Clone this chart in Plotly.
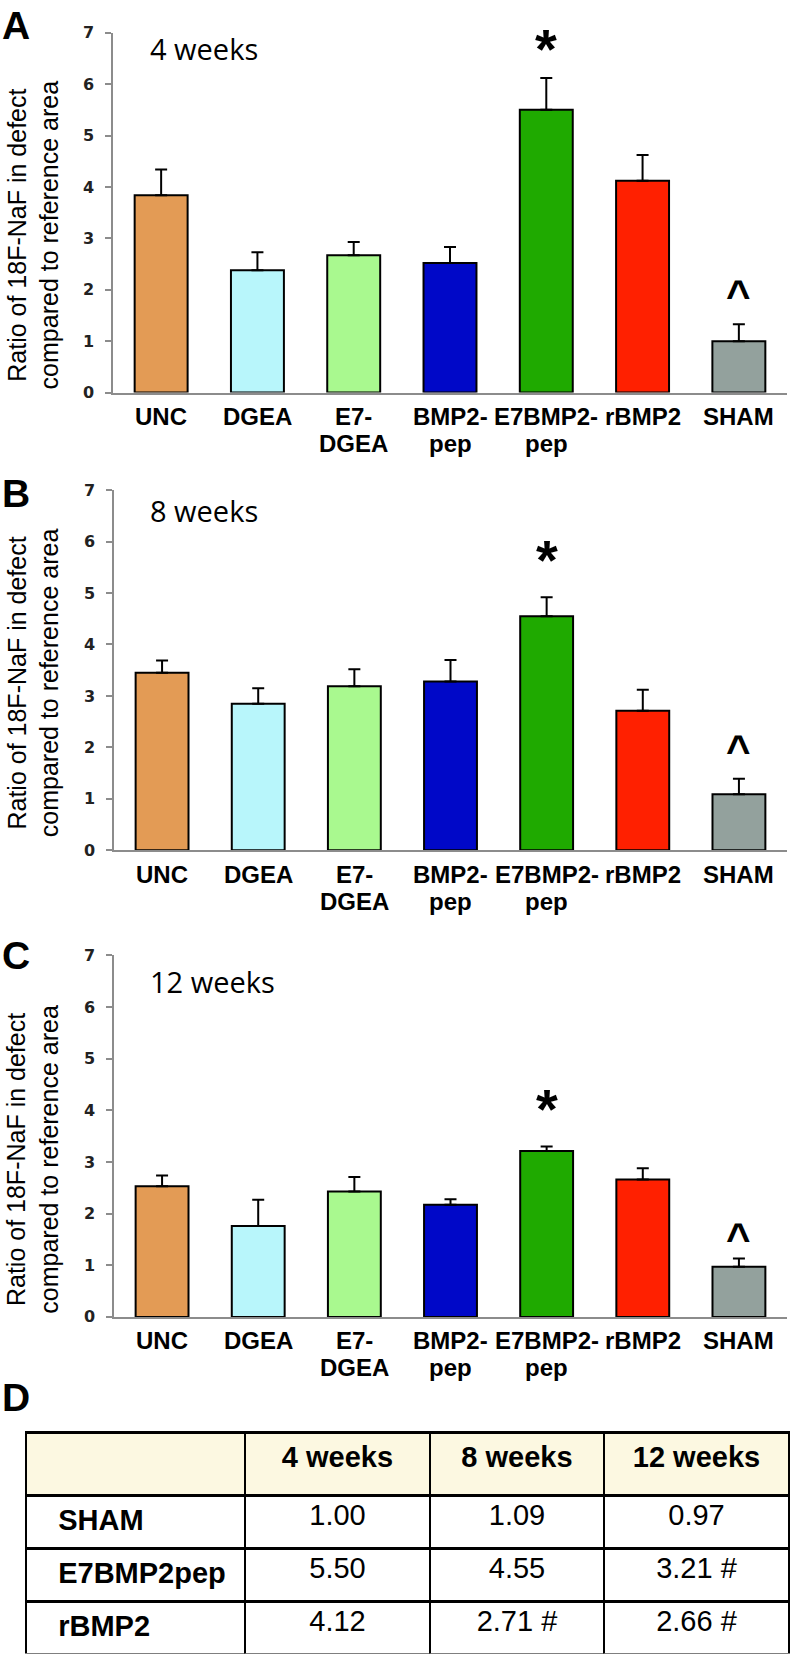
import plotly.graph_objects as go

# ---------------- data ----------------
categories = ["UNC", "DGEA", "E7-DGEA", "BMP2-pep", "E7BMP2-pep", "rBMP2", "SHAM"]
tick_labels = ["UNC", "DGEA", "E7-<br>DGEA", "BMP2-<br>pep", "E7BMP2-<br>pep", "rBMP2", "SHAM"]
bar_colors = ["#E39B55", "#B8F6FB", "#A9F98F", "#0008C8", "#1FAA00", "#FF2000", "#93A19D"]

week4_mean = [3.84, 2.38, 2.67, 2.52, 5.50, 4.12, 1.00]
week4_err = [0.50, 0.35, 0.26, 0.31, 0.62, 0.50, 0.33]
week8_mean = [3.45, 2.85, 3.19, 3.28, 4.55, 2.71, 1.09]
week8_err = [0.24, 0.30, 0.33, 0.42, 0.37, 0.41, 0.30]
week12_mean = [2.53, 1.76, 2.43, 2.17, 3.21, 2.66, 0.97]
week12_err = [0.21, 0.51, 0.28, 0.11, 0.09, 0.22, 0.16]

sig_marks = ["", "", "", "", "*", "", "^"]
panel_letters = ["A", "B", "C"]
panel_titles = ["4 weeks", "8 weeks", "12 weeks"]
y_title = "Ratio of 18F-NaF in defect<br>compared to reference area"

table_header = ["", "4 weeks", "8 weeks", "12 weeks"]
table_rows = ["SHAM", "E7BMP2pep", "rBMP2"]
table_4wk = ["1.00", "5.50", "4.12"]
table_8wk = ["1.09", "4.55", "2.71 #"]
table_12wk = ["0.97", "3.21 #", "2.66 #"]

# ---------------- layout helpers ----------------
W, H = 792, 1664
def px(x):
    return x / W
def py(y):
    return 1 - y / H

# pixel geometry of each panel: (x_left, x_right, y_top(=7), y_bottom(=0))
panels = [(113, 787, 24, 388), (114, 787, 486.7, 851), (114, 787, 957.3, 1323)]
ytitle_center = [229, 682, 1164]
title_center_y = [40, 507, 984]
letter_center_y = [17, 490, 957]
star_shift = [29, 38, 38]
caret_shift = [29, 28, 20]
xlabel_line_shift = [-24, -51]

means = [week4_mean, week8_mean, week12_mean]
errs = [week4_err, week8_err, week12_err]

AX = "#8C8C8C"
ARIAL = "Liberation Sans, Arial"
fig = go.Figure()
annotations = []

for i in range(3):
    sfx = "" if i == 0 else str(i + 1)
    xa, ya = "x" + sfx, "y" + sfx
    fig.add_trace(go.Bar(
        x=categories, y=means[i], xaxis=xa, yaxis=ya,
        marker=dict(color=bar_colors, line=dict(color="black", width=2)),
        error_y=dict(type="data", array=errs[i], arrayminus=[0] * len(errs[i]),
                     symmetric=False, color="black", thickness=2, width=6),
        hoverinfo="skip",
    ))
    x0, x1, yt, yb = panels[i]
    fig.layout["xaxis" + sfx] = dict(
        domain=[px(x0), px(x1)], anchor=ya, type="category",
        range=[-0.5, 6.5], showline=True, linecolor=AX, linewidth=1.5,
        ticks="", showticklabels=False,
        showgrid=False, zeroline=False, fixedrange=True,
    )
    fig.layout["yaxis" + sfx] = dict(
        domain=[py(yb), py(yt)], anchor=xa, range=[0, 7], dtick=1,
        showline=True, linecolor=AX, linewidth=1.5, ticks="outside",
        ticklen=6, tickcolor=AX, tickwidth=1.5,
        tickfont=dict(family="DejaVu Sans, Verdana", size=16, color="#222", weight=700),
        ticklabelstandoff=8,
        showgrid=False, zeroline=False, fixedrange=True,
    )
    # category labels (two-line, tight line spacing)
    for c, lab in zip(categories, tick_labels):
        for k, line in enumerate(lab.split("<br>")):
            annotations.append(dict(x=c, y=0, xref=xa, yref=ya, text=line, showarrow=False,
                                    xanchor="center", yanchor="middle", yshift=xlabel_line_shift[k],
                                    font=dict(family=ARIAL, size=24, color="black", weight=700)))
    # significance marks
    for c, m, e, mk in zip(categories, means[i], errs[i], sig_marks):
        if mk == "*":
            annotations.append(dict(x=c, y=m + e, xref=xa, yref=ya, text="*", showarrow=False,
                                    yanchor="middle", yshift=star_shift[i],
                                    font=dict(family=ARIAL, size=56, color="black", weight=700)))
        elif mk == "^":
            annotations.append(dict(x=c, y=m + e, xref=xa, yref=ya, text="^", showarrow=False,
                                    yanchor="middle", yshift=caret_shift[i],
                                    font=dict(family=ARIAL, size=42, color="black", weight=700)))
    # panel title
    annotations.append(dict(x=px(148), y=py(title_center_y[i]), xref="paper", yref="paper",
                            text=panel_titles[i], showarrow=False, xanchor="left", yanchor="middle",
                            font=dict(family="Open Sans", size=29, color="black")))
    # y title
    annotations.append(dict(x=px(33), y=py(ytitle_center[i]), xref="paper", yref="paper",
                            text=y_title, showarrow=False, textangle=-90, xanchor="center", yanchor="middle",
                            font=dict(family=ARIAL, size=25, color="black")))
    # panel letter
    annotations.append(dict(x=px(0), y=py(letter_center_y[i]), xref="paper", yref="paper",
                            text=panel_letters[i], showarrow=False, xanchor="left", yanchor="middle",
                            font=dict(family=ARIAL, size=39, color="black", weight=700)))

annotations.append(dict(x=px(0), y=py(1405), xref="paper", yref="paper",
                        text="D", showarrow=False, xanchor="left", yanchor="middle",
                        font=dict(family=ARIAL, size=39, color="black", weight=700)))

pad = "\u00a0" * 3
fig.add_trace(go.Table(
    domain=dict(x=[px(26), px(789)], y=[0, py(1440)]),
    columnwidth=[219, 185, 174, 185],
    header=dict(values=["<b>%s</b>" % h for h in table_header],
                fill_color="#FCF8E1", line=dict(color="black", width=2.5),
                align="center", height=63,
                font=dict(family=ARIAL, size=29, color="black")),
    cells=dict(values=[[pad + "<b>%s</b>" % r for r in table_rows], table_4wk, table_8wk, table_12wk],
               fill_color="white", line=dict(color="black", width=2.5),
               align=["left", "center", "center", "center"], height=53,
               font=dict(family=ARIAL, size=29, color="black")),
))

fig.update_layout(
    width=W, height=H, margin=dict(l=0, r=0, t=0, b=0),
    paper_bgcolor="white", plot_bgcolor="white", showlegend=False,
    bargap=0.45, annotations=annotations,
)

fig.write_html("out.html", config={"displayModeBar": False},
               post_script="document.body.style.margin='0';document.body.style.overflow='hidden';")
